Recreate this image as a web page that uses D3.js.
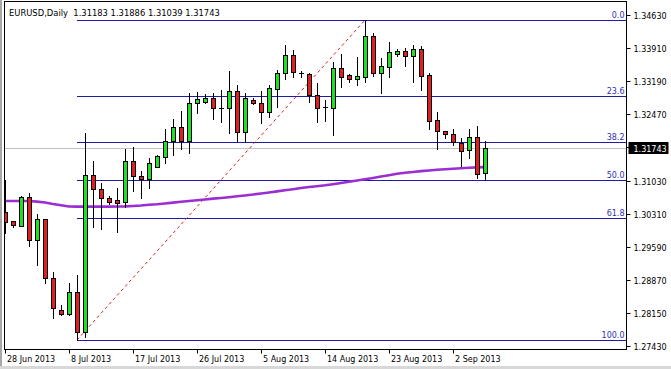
<!DOCTYPE html>
<html>
<head>
<meta charset="utf-8">
<script src="https://cdn.jsdelivr.net/npm/d3@7"></script>
<style>
    body { margin: 0; overflow: hidden; background: #ffffff; }
</style>
</head>
<body>
<div id="container"></div>
<script>
// daily bars (broker feed has a short Sunday bar every week)
var dates = ["2013-06-28", "2013-06-30", "2013-07-01", "2013-07-02", "2013-07-03", "2013-07-04", "2013-07-05", "2013-07-07",
    "2013-07-08", "2013-07-09", "2013-07-10", "2013-07-11", "2013-07-12", "2013-07-14", "2013-07-15", "2013-07-16",
    "2013-07-17", "2013-07-18", "2013-07-19", "2013-07-21", "2013-07-22", "2013-07-23", "2013-07-24", "2013-07-25",
    "2013-07-26", "2013-07-28", "2013-07-29", "2013-07-30", "2013-07-31", "2013-08-01", "2013-08-02", "2013-08-04",
    "2013-08-05", "2013-08-06", "2013-08-07", "2013-08-08", "2013-08-09", "2013-08-11", "2013-08-12", "2013-08-13",
    "2013-08-14", "2013-08-15", "2013-08-16", "2013-08-18", "2013-08-19", "2013-08-20", "2013-08-21", "2013-08-22",
    "2013-08-23", "2013-08-25", "2013-08-26", "2013-08-27", "2013-08-28", "2013-08-29", "2013-08-30", "2013-09-01",
    "2013-09-02", "2013-09-03", "2013-09-04", "2013-09-05", "2013-09-06"];

var open = [1.3035, 1.3015, 1.3004, 1.3067, 1.2974, 1.3019, 1.2891, 1.2821,
    1.2813, 1.2861, 1.2774, 1.3115, 1.3085, 1.3065, 1.3061, 1.3056,
    1.3145, 1.3113, 1.3106, 1.3132, 1.3154, 1.3189, 1.3219, 1.3189,
    1.3272, 1.3274, 1.3282, 1.3261, 1.3261, 1.3298, 1.3209, 1.3278,
    1.3272, 1.3252, 1.3302, 1.3337, 1.3376, 1.3337, 1.3335, 1.3289,
    1.3262, 1.3261, 1.3348, 1.3333, 1.3324, 1.3328, 1.3417, 1.3337,
    1.3350, 1.3378, 1.3385, 1.3374, 1.3389, 1.3333, 1.3235, 1.3211,
    1.3204, 1.3185, 1.3169, 1.3198, 1.31183];

var high = [1.3104, 1.3015, 1.3069, 1.3076, 1.3030, 1.3019, 1.2904, 1.2832,
    1.2880, 1.2898, 1.3206, 1.3145, 1.3098, 1.3069, 1.3087, 1.3172,
    1.3176, 1.3124, 1.3152, 1.3159, 1.3215, 1.3237, 1.3254, 1.3293,
    1.3296, 1.3291, 1.3293, 1.3300, 1.3341, 1.3311, 1.3293, 1.3282,
    1.3298, 1.3311, 1.3343, 1.3398, 1.3387, 1.3341, 1.3337, 1.3315,
    1.3278, 1.3361, 1.3378, 1.3335, 1.3372, 1.3452, 1.3424, 1.3369,
    1.3404, 1.3389, 1.3391, 1.3398, 1.3396, 1.3337, 1.3252, 1.3211,
    1.3215, 1.3195, 1.3215, 1.3222, 1.31886];

var low = [1.2989, 1.3002, 1.3004, 1.2961, 1.2919, 1.2880, 1.2804, 1.2811,
    1.2811, 1.2756, 1.2763, 1.3002, 1.2998, 1.3052, 1.2991, 1.3045,
    1.3080, 1.3065, 1.3087, 1.3132, 1.3141, 1.3159, 1.3172, 1.3163,
    1.3250, 1.3272, 1.3237, 1.3230, 1.3206, 1.3189, 1.3187, 1.3269,
    1.3228, 1.3241, 1.3263, 1.3324, 1.3328, 1.3328, 1.3274, 1.3230,
    1.3232, 1.3202, 1.3306, 1.3317, 1.3311, 1.3317, 1.3330, 1.3293,
    1.3328, 1.3374, 1.3352, 1.3317, 1.3300, 1.3215, 1.3172, 1.3195,
    1.3180, 1.3135, 1.3152, 1.3108, 1.31039];

var close = [1.3013, 1.3006, 1.3067, 1.2974, 1.3019, 1.2891, 1.2826, 1.2813,
    1.2861, 1.2774, 1.3115, 1.3085, 1.3065, 1.3056, 1.3054, 1.3145,
    1.3113, 1.3106, 1.3141, 1.3156, 1.3189, 1.3219, 1.3189, 1.3272,
    1.3280, 1.3282, 1.3261, 1.3261, 1.3298, 1.3209, 1.3282, 1.3272,
    1.3252, 1.3304, 1.3337, 1.3376, 1.3339, 1.3337, 1.3289, 1.3261,
    1.3262, 1.3348, 1.3328, 1.3324, 1.3330, 1.3417, 1.3337, 1.3352,
    1.3383, 1.3385, 1.3374, 1.3389, 1.3330, 1.3232, 1.3211, 1.3204,
    1.3187, 1.3167, 1.3198, 1.3117, 1.31743];

// moving average (purple line), one value per bar
var ma = [1.30585, 1.30585, 1.30585, 1.30585, 1.30571, 1.30552, 1.30519, 1.30491,
    1.30465, 1.30461, 1.30461, 1.30461, 1.30461, 1.30461, 1.30463, 1.30467,
    1.30476, 1.30487, 1.30502, 1.30513, 1.30530, 1.30548, 1.30567, 1.30585,
    1.30602, 1.30617, 1.30635, 1.30650, 1.30667, 1.30687, 1.30704, 1.30724,
    1.30748, 1.30769, 1.30793, 1.30819, 1.30841, 1.30865, 1.30887, 1.30906,
    1.30926, 1.30950, 1.30976, 1.31004, 1.31030, 1.31057, 1.31085, 1.31115,
    1.31146, 1.31176, 1.31200, 1.31215, 1.31233, 1.31248, 1.31263, 1.31276,
    1.31287, 1.31298, 1.31307, 1.31315, 1.31320];

var priceTicks = [1.34630, 1.33910, 1.33190, 1.32470, 1.31750, 1.31030, 1.30310, 1.29590, 1.28870, 1.28150, 1.27430];
var fibLevels = [0, 23.6, 38.2, 50, 61.8, 100];
var symbol = "EURUSD,Daily";

var svg;

function drawChart() {
    var svgWidth = 671;
    var svgHeight = 369;

    // plot frame (price scale on the right, time scale below)
    var plot = { left: 4.5, top: 1.5, right: 626.5, bottom: 349.5 };
    var font = "'DejaVu Sans', Verdana, sans-serif";

    svg = d3.select("div#container")
        .append("svg")
        .attr("width", svgWidth)
        .attr("height", svgHeight)
        .style("display", "block");

    svg.append("rect")
        .attr("width", svgWidth)
        .attr("height", svgHeight)
        .attr("fill", "#ffffff");

    // window edges
    svg.append("rect").attr("x", 0).attr("y", 0).attr("width", 2).attr("height", svgHeight).attr("fill", "#a8a8a8");
    svg.append("rect").attr("x", 0).attr("y", svgHeight - 3).attr("width", svgWidth).attr("height", 3).attr("fill", "#d8d8d8");

    var x = d3.scaleLinear()
        .domain([0, dates.length - 1])
        .range([5, 5 + 8 * (dates.length - 1)]);

    var y = d3.scaleLinear()
        .domain([priceTicks[priceTicks.length - 1], priceTicks[0]])
        .range([346, 15]);

    svg.append("clipPath").attr("id", "plotClip")
        .append("rect")
        .attr("x", plot.left).attr("y", plot.top)
        .attr("width", plot.right - plot.left).attr("height", plot.bottom - plot.top);

    var g = svg.append("g").attr("clip-path", "url(#plotClip)");

    // current price line
    var last = close.length - 1;
    g.append("line")
        .attr("x1", plot.left).attr("x2", plot.right)
        .attr("y1", Math.round(y(close[last])) + 0.5)
        .attr("y2", Math.round(y(close[last])) + 0.5)
        .attr("stroke", "#c0c0c0");

    // fibonacci retracement from the swing low to the swing high
    var iLow = d3.minIndex(low);
    var iHigh = d3.maxIndex(high);
    var fibLow = low[iLow], fibHigh = high[iHigh];
    var fibStart = Math.round(x(iLow));

    g.selectAll(".fibLine")
        .data(fibLevels)
        .enter()
        .append("line")
        .attr("class", "fibLine")
        .attr("x1", fibStart)
        .attr("x2", plot.right)
        .attr("y1", function (d) { return Math.round(y(fibHigh - d / 100 * (fibHigh - fibLow))) + 0.5; })
        .attr("y2", function (d) { return Math.round(y(fibHigh - d / 100 * (fibHigh - fibLow))) + 0.5; })
        .attr("stroke", "#1c1ca4")
        .attr("stroke-width", 1.2);

    g.selectAll(".fibText")
        .data(fibLevels)
        .enter()
        .append("text")
        .attr("class", "fibText")
        .attr("x", plot.right - 2)
        .attr("y", function (d) { return Math.round(y(fibHigh - d / 100 * (fibHigh - fibLow))) - 2; })
        .attr("text-anchor", "end")
        .style("font-family", font)
        .style("font-size", "8px")
        .attr("fill", "#3030b8")
        .text(function (d) { return d.toFixed(1); });

    // dashed trend line of the fibo
    g.append("line")
        .attr("x1", x(iLow)).attr("y1", y(fibLow))
        .attr("x2", x(iHigh)).attr("y2", y(fibHigh))
        .attr("stroke", "#d02020")
        .attr("stroke-dasharray", "3,3");

    // moving average
    var maLine = d3.line()
        .x(function (d, i) { return x(i); })
        .y(function (d) { return y(d); });

    g.append("path")
        .datum(ma)
        .attr("d", maLine)
        .attr("fill", "none")
        .attr("stroke", "#9a2ed2")
        .attr("stroke-width", 2.6);

    // candles
    var bars = g.selectAll(".bar")
        .data(d3.range(dates.length))
        .enter()
        .append("g")
        .attr("class", "bar");

    bars.append("line")
        .attr("x1", function (i) { return Math.round(x(i)) + 0.5; })
        .attr("x2", function (i) { return Math.round(x(i)) + 0.5; })
        .attr("y1", function (i) { return Math.round(y(high[i])); })
        .attr("y2", function (i) { return Math.round(y(low[i])) + 1; })
        .attr("stroke", "#000000");

    bars.filter(function (i) { return open[i] !== close[i]; })
        .append("rect")
        .attr("x", function (i) { return Math.round(x(i)) - 1.5; })
        .attr("y", function (i) { return Math.round(y(Math.max(open[i], close[i]))) + 0.5; })
        .attr("width", 4)
        .attr("height", function (i) {
            return Math.max(1, Math.round(y(Math.min(open[i], close[i]))) - Math.round(y(Math.max(open[i], close[i]))));
        })
        .attr("fill", function (i) { return close[i] > open[i] ? "#22e022" : "#e02020"; })
        .attr("stroke", "#000000");

    // doji
    bars.filter(function (i) { return open[i] === close[i]; })
        .append("line")
        .attr("x1", function (i) { return Math.round(x(i)) - 2; })
        .attr("x2", function (i) { return Math.round(x(i)) + 3; })
        .attr("y1", function (i) { return Math.round(y(open[i])) + 0.5; })
        .attr("y2", function (i) { return Math.round(y(open[i])) + 0.5; })
        .attr("stroke", "#000000");

    // frame
    svg.append("rect")
        .attr("x", plot.left).attr("y", plot.top)
        .attr("width", plot.right - plot.left).attr("height", plot.bottom - plot.top)
        .attr("fill", "none")
        .attr("stroke", "#000000");

    // price scale
    var yAxis = svg.append("g");
    yAxis.selectAll(".yTick")
        .data(priceTicks)
        .enter()
        .append("line")
        .attr("x1", plot.right).attr("x2", plot.right + 4)
        .attr("y1", function (d) { return Math.round(y(d)) + 0.5; })
        .attr("y2", function (d) { return Math.round(y(d)) + 0.5; })
        .attr("stroke", "#000000");

    yAxis.selectAll(".yLabel")
        .data(priceTicks)
        .enter()
        .append("text")
        .attr("x", plot.right + 7)
        .attr("y", function (d) { return Math.round(y(d)) + 3.5; })
        .style("font-family", font)
        .style("font-size", "8px")
        .attr("fill", "#000000")
        .text(function (d) { return d.toFixed(5); });

    // current price tag
    var yLast = Math.round(y(close[last]));
    svg.append("rect")
        .attr("x", plot.right + 2).attr("y", yLast - 6)
        .attr("width", 40).attr("height", 12)
        .attr("fill", "#000000");
    svg.append("text")
        .attr("x", plot.right + 7)
        .attr("y", yLast + 3.5)
        .style("font-family", font)
        .style("font-size", "8px")
        .attr("fill", "#ffffff")
        .text(close[last].toFixed(5));

    // time scale, a label every 8 bars
    var parse = d3.timeParse("%Y-%m-%d");
    var fmt = d3.timeFormat("%-d %b %Y");
    var tickIdx = d3.range(0, dates.length, 8);

    var xAxis = svg.append("g");
    xAxis.selectAll(".xTick")
        .data(tickIdx)
        .enter()
        .append("line")
        .attr("x1", function (i) { return Math.round(x(i)) + 0.5; })
        .attr("x2", function (i) { return Math.round(x(i)) + 0.5; })
        .attr("y1", plot.bottom).attr("y2", plot.bottom + 4)
        .attr("stroke", "#000000");

    xAxis.selectAll(".xLabel")
        .data(tickIdx)
        .enter()
        .append("text")
        .attr("x", function (i) { return Math.max(4, Math.round(x(i)) + 2); })
        .attr("y", 362)
        .style("font-family", font)
        .style("font-size", "8px")
        .attr("fill", "#000000")
        .text(function (i) { return fmt(parse(dates[i])); });

    // header with the last bar's OHLC
    svg.append("text")
        .attr("x", 9)
        .attr("y", 16)
        .style("font-family", font)
        .style("font-size", "8.4px")
        .attr("fill", "#000000")
        .attr("xml:space", "preserve")
        .text(symbol + "  " + [open[last], high[last], low[last], close[last]].map(function (v) { return v.toFixed(5); }).join(" "));
}

drawChart();
</script>
</body>
</html>
